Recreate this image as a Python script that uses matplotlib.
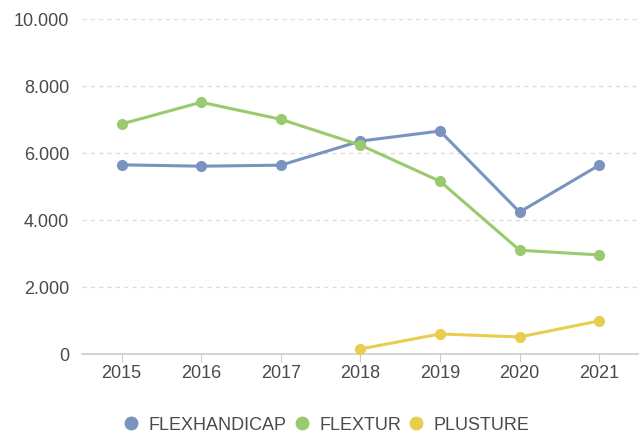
import matplotlib
matplotlib.use("Agg")
import matplotlib.pyplot as plt
from matplotlib.ticker import FuncFormatter
from matplotlib.lines import Line2D

years = ["2015", "2016", "2017", "2018", "2019", "2020", "2021"]
flexhandicap = [5650, 5610, 5640, 6360, 6660, 4240, 5640]
flextur = [6870, 7520, 7010, 6240, 5160, 3100, 2960]
plusture_years = ["2018", "2019", "2020", "2021"]
plusture = [150, 600, 510, 990]

series_names = ["FLEXHANDICAP", "FLEXTUR", "PLUSTURE"]
colors = ["#7b93bf", "#9bca6e", "#e9cd4f"]

plt.rcParams['font.family'] = ['Liberation Sans', 'DejaVu Sans']
fig = plt.figure(figsize=(6.39, 4.36), dpi=100)
ax = fig.add_axes([0.128, 0.188, 0.872, 0.768])

x = list(range(len(years)))
xp = [years.index(y) for y in plusture_years]
ax.plot(x, flexhandicap, color=colors[0], lw=2.2, marker='o', ms=7, zorder=3)
ax.plot(x, flextur, color=colors[1], lw=2.2, marker='o', ms=7, zorder=3)
ax.plot(xp, plusture, color=colors[2], lw=2.2, marker='o', ms=7, zorder=3)

ax.set_xlim(-0.5, len(years) - 0.5)
ax.set_ylim(0, 10000)
ax.set_yticks([0, 2000, 4000, 6000, 8000, 10000])
ax.yaxis.set_major_formatter(FuncFormatter(lambda v, p: f"{int(v):,}".replace(",", ".")))
ax.set_xticks(x)
ax.set_xticklabels(years)

for yv in [2000, 4000, 6000, 8000, 10000]:
    ax.axhline(yv, color="#dddddd", lw=1, ls=(0, (3, 3)), zorder=1)

for s in ["top", "right", "left"]:
    ax.spines[s].set_visible(False)
ax.spines["bottom"].set_color("#cccccc")
ax.spines["bottom"].set_linewidth(1.2)
ax.tick_params(axis='y', length=0, labelsize=13, labelcolor="#4a4a4a", pad=9)
ax.tick_params(axis='x', length=6, color="#cccccc", labelsize=13, labelcolor="#4a4a4a", pad=2)

handles = [Line2D([], [], color=c, marker='o', ls='', ms=9) for c in colors]
fig.legend(handles, series_names, loc='center', bbox_to_anchor=(0.512, 0.025), ncol=3,
           frameon=False, fontsize=13, labelcolor="#4a4a4a", handletextpad=0.6,
           columnspacing=0.5, handlelength=0.7, borderpad=0, borderaxespad=0)

fig.savefig("out.png", dpi=100)
